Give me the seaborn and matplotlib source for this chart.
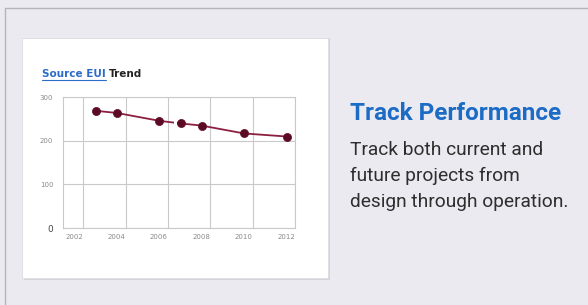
import numpy as np
import pandas as pd
import matplotlib
matplotlib.use("Agg")
import matplotlib.pyplot as plt
import seaborn as sns
from matplotlib.patches import Rectangle
from matplotlib.lines import Line2D

sns.set_style("white")

# data
years = [2002.6, 2003.6, 2005.6, 2006.6, 2007.6, 2009.6, 2011.6]
source_eui = [269, 264, 246, 240, 235, 217, 210]
x_ticks = [2002, 2004, 2006, 2008, 2010, 2012]
y_ticks = [0, 100, 200, 300]

df = pd.DataFrame({"year": years, "eui": source_eui})

BG = "#ebeaf1"
LINE = "#8c1f40"
MARK = "#5c0b24"
GRID = "#c9c9cc"
TICK = "#8a8a8a"

W, H = 588, 305
fig = plt.figure(figsize=(W / 100, H / 100), dpi=100)
fig.patch.set_facecolor(BG)


def fx(px):
    return px / W


def fy(py):
    return 1 - py / H


# outer frame lines (top and left)
fig.add_artist(Line2D([fx(5), 1.0], [fy(8), fy(8)], color="#b4b4bc", lw=1.0))
fig.add_artist(Line2D([fx(5), fx(5)], [fy(8), 0.0], color="#b4b4bc", lw=1.0))

# white card with a soft shadow
fig.add_artist(Rectangle((fx(24), fy(280)), fx(306), (280 - 38) / H,
                         facecolor="#d4d3da", edgecolor="none", zorder=0.5))
fig.add_artist(Rectangle((fx(22), fy(278)), fx(306), (278 - 38) / H,
                         facecolor="white", edgecolor="#dcdce2", lw=0.6, zorder=0.6))

ax = fig.add_axes([fx(63), fy(228), fx(295 - 63), (228 - 97.3) / H])
ax.set_facecolor("white")
ax.set_zorder(2)

sns.lineplot(data=df, x="year", y="eui", ax=ax, color=LINE, lw=1.3, zorder=3)
# small break in the trend line
ax.add_patch(Rectangle((2006.27, 234), 0.14, 16, facecolor="white",
                       edgecolor="none", zorder=4))
sns.scatterplot(data=df, x="year", y="eui", ax=ax, color=MARK, s=34,
                edgecolor=MARK, linewidth=0.5, zorder=5)

ax.set_xlim(2001.05, 2012)
ax.set_ylim(0, 300)
ax.set_xticks(x_ticks)
ax.set_yticks(y_ticks)
ax.set_xticklabels([str(t) for t in x_ticks], ha="right")
ax.set_xlabel("")
ax.set_ylabel("")
ax.grid(True, color=GRID, lw=0.8)
ax.set_axisbelow(True)
for s in ax.spines.values():
    s.set_color(GRID)
    s.set_linewidth(0.8)
ax.tick_params(axis="x", length=0, pad=4, labelsize=5, labelcolor=TICK)
ax.tick_params(axis="y", length=5, width=0.8, color=GRID, pad=2,
               labelsize=5, labelcolor=TICK)
ylabels = ax.get_yticklabels()
ylabels[0].set_color("#444444")
ylabels[0].set_fontsize(6.5)

# chart title: "Source EUI" underlined link + "Trend"
t1 = fig.text(fx(42), fy(77), "Source EUI", color="#2a6cc8", fontsize=7.5,
              fontweight="bold", zorder=3)
fig.canvas.draw()
r = fig.canvas.get_renderer()
bb = t1.get_window_extent(r)
fig.text(bb.x1 / W + fx(3.5), fy(77), "Trend", color="#222222", fontsize=7.5,
         fontweight="bold", zorder=3)
fig.add_artist(Line2D([bb.x0 / W, bb.x1 / W], [fy(79.5), fy(79.5)],
                      color="#2a6cc8", lw=0.8, zorder=3))

# right-hand text
narrow = ["Liberation Sans Narrow", "Roboto", "DejaVu Sans"]
head = fig.text(fx(350), fy(120), "Track Performance", color="#1c6cc6",
                fontsize=15, fontweight="bold", family=narrow)
body_lines = ["Track both current and", "future projects from",
              "design through operation."]
body = [fig.text(fx(350), fy(155 + i * 25.8), s, color="#2e2e2e",
                 fontsize=13, family=narrow) for i, s in enumerate(body_lines)]

# fit widths to the reference
fig.canvas.draw()
w = head.get_window_extent(r).width
head.set_fontsize(15 * 212 / w)
w = body[2].get_window_extent(r).width
for b in body:
    b.set_fontsize(13 * 218 / w)

fig.savefig("out.png", dpi=100, facecolor=BG)
